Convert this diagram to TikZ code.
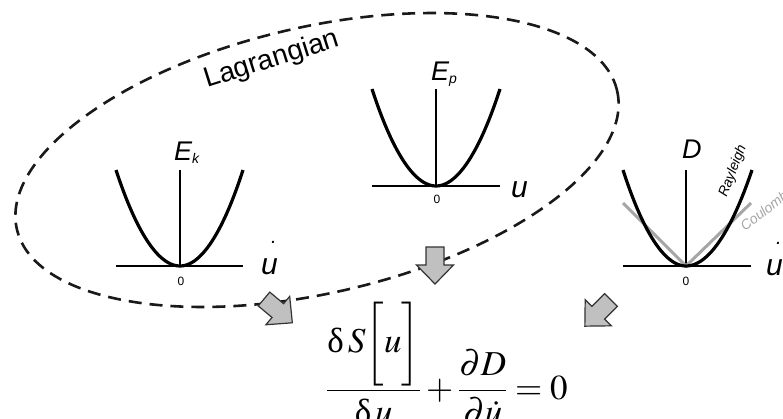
\documentclass[tikz,border=0pt]{standalone}
\usepackage{amsmath}
\usepackage{mathptmx}
\usepackage[no-math]{fontspec}
\setmainfont{Liberation Sans}
\newfontfamily\eqfont{Liberation Serif}
\definecolor{arrowgray}{RGB}{192,192,192}
\definecolor{coulgray}{RGB}{166,166,166}
\makeatletter
\newcommand{\bkl}{\mathopen{\bBigg@{1.7}[}}
\newcommand{\bkr}{\mathclose{\bBigg@{1.7}]}}
\makeatother
\tikzset{
  axisline/.style={line width=1.3pt},
  curveline/.style={line width=3.2pt},
  coulline/.style={line width=3pt, color=coulgray},
  lab/.style={font=\fontsize{27}{30}\selectfont\itshape, inner sep=0pt},
  var/.style={font=\fontsize{30}{34}\selectfont\itshape, inner sep=0pt},
  zero/.style={font=\fontsize{12}{14}\selectfont, inner sep=0pt},
  small/.style={font=\fontsize{14}{16}\selectfont\itshape, inner sep=0pt},
  blockarrow/.style={fill=arrowgray, draw=black!80, line width=1.2pt, line join=miter},
  blockarr/.pic={\draw[blockarrow] (0,-9)--(18,-9)--(18,-18.5)--(37,0)--(18,18.5)--(18,9)--(0,9)--cycle;}
}
\newcommand{\udot}{\rlap{\hspace{10pt}\raisebox{31pt}{\fontsize{20}{20}\selectfont .}}u}
\begin{document}
\begin{tikzpicture}[x=1pt,y=-1pt]
\useasboundingbox (0,0) rectangle (783,418);
% Lagrangian ellipse
\draw[line width=2.6pt, color=black!90, dash pattern=on 13pt off 8pt, rotate around={13:(317,160)}] (317,160) ellipse [x radius=308, y radius=133];
\node[font=\fontsize{28}{32}\selectfont, inner sep=0pt, anchor=base west, rotate=17.5] (lagr) at (207,88) {Lagrangian};

% Ek plot
\coordinate (ek0) at (180,266);
\draw[axisline] (116,266) -- (243,266);
\draw[axisline] (ek0) -- (180,170);
\draw[curveline] (116,170) parabola bend (ek0) (243,170);
\node[lab, anchor=base west] (ek) at (174,160) {E\raisebox{-3pt}{\fontsize{14}{15}\selectfont k}};
\node[zero] (ekz) at (181,281) {0};
\node[var, anchor=base west] (eku) at (261,274) {\udot};

% Ep plot
\coordinate (ep0) at (436,186);
\draw[axisline] (372,186) -- (500,186);
\draw[axisline] (ep0) -- (436,89);
\draw[curveline] (372,89) parabola bend (ep0) (500,89);
\node[lab, anchor=base west] (ep) at (431,80) {E\raisebox{-3pt}{\fontsize{14}{15}\selectfont p}};
\node[zero] (epz) at (437,199) {0};
\node[var, anchor=base west] (epu) at (511,197) {u};

% D plot
\coordinate (d0) at (686,266);
\draw[axisline] (623,266) -- (751,266);
\draw[axisline] (d0) -- (686,170);
\draw[coulline] (623,203) -- (d0) -- (751,203);
\draw[curveline] (623,170) parabola bend (d0) (752,170);
\node[lab, anchor=base west] (dl) at (682,158) {D};
\node[zero] (dz) at (686,281) {0};
\node[var, anchor=base west] (du) at (766,275) {\udot};
\node[small, rotate=69] (ray) at (733,171) {Rayleigh};
\node[small, text=coulgray, anchor=base west, rotate=38] (coul) at (745,232) {Coulomb};

% block arrows
\pic[rotate=-90] at (435,247) {blockarr};
\pic[rotate=-40] at (264,299) {blockarr};
\pic[rotate=-135] at (611,300) {blockarr};

% equation
\node[inner sep=0pt] (eq) at (447,363) {\fontsize{35}{40}\selectfont $\dfrac{\mbox{\eqfont δ}\,S\bkl u\bkr}{\mbox{\eqfont δ}\,u}+\dfrac{\partial D}{\partial\dot{u}}=0$};
\end{tikzpicture}
\end{document}
